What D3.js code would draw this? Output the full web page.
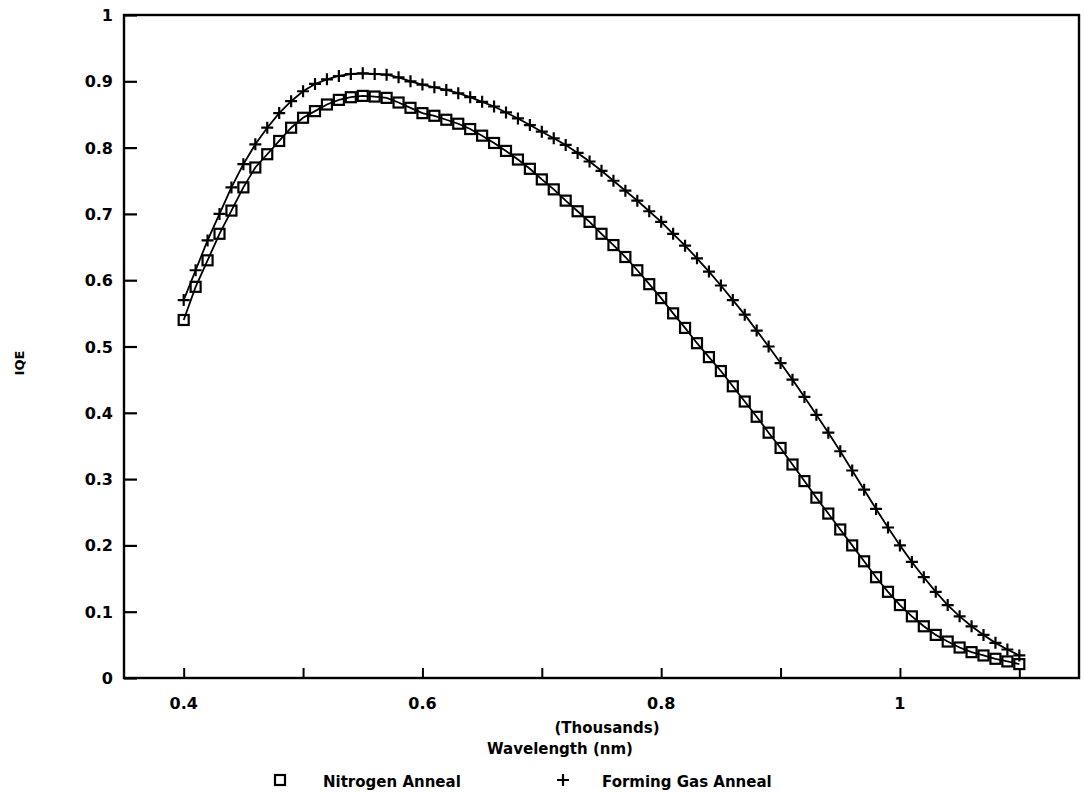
<!DOCTYPE html>
<html><head><meta charset="utf-8">
<script src="https://cdn.jsdelivr.net/npm/d3@7"></script>
<style>
body{margin:0;background:#fff;}
text{font-family:"DejaVu Sans",sans-serif;font-weight:bold;fill:#000;}
</style></head>
<body><svg id="c" width="1084" height="794"></svg>
<script>
const wavelengths = d3.range(0, 71).map(i => +(0.40 + i*0.01).toFixed(2));
const nitrogen = [0.54,0.59,0.63,0.67,0.705,0.74,0.77,0.79,0.81,0.83,
0.845,0.855,0.865,0.872,0.876,0.878,0.877,0.875,0.868,0.86,
0.852,0.848,0.842,0.836,0.828,0.818,0.807,0.795,0.782,0.768,
0.752,0.737,0.72,0.704,0.688,0.67,0.653,0.635,0.615,0.594,
0.573,0.55,0.528,0.505,0.484,0.463,0.44,0.417,0.394,0.37,
0.347,0.322,0.297,0.272,0.248,0.224,0.2,0.176,0.152,0.13,
0.11,0.093,0.078,0.065,0.055,0.046,0.039,0.034,0.029,0.025,0.021];
const forming = [0.57,0.615,0.66,0.70,0.74,0.775,0.805,0.83,0.852,0.87,
0.885,0.896,0.903,0.908,0.911,0.912,0.911,0.91,0.906,0.9,
0.895,0.891,0.887,0.882,0.876,0.869,0.862,0.853,0.844,0.834,
0.824,0.814,0.804,0.792,0.779,0.765,0.75,0.735,0.72,0.704,
0.688,0.67,0.652,0.633,0.613,0.592,0.57,0.548,0.524,0.5,
0.475,0.45,0.424,0.397,0.37,0.342,0.313,0.284,0.255,0.227,
0.2,0.175,0.152,0.13,0.11,0.093,0.078,0.065,0.053,0.043,0.034];
const xTicks = [0.4,0.5,0.6,0.7,0.8,0.9,1.0,1.1];
const xTickLabels = ["0.4","","0.6","","0.8","","1",""];
const yTicks = [0,0.1,0.2,0.3,0.4,0.5,0.6,0.7,0.8,0.9,1];
const yTickLabels = ["0","0.1","0.2","0.3","0.4","0.5","0.6","0.7","0.8","0.9","1"];
const seriesNames = ["Nitrogen Anneal","Forming Gas Anneal"];

const svg = d3.select("#c");
const L=124, R=1079, T=15, B=678;
const x = d3.scaleLinear().domain([0.35,1.15]).range([L,R]);
const y = d3.scaleLinear().domain([0,1]).range([B,T]);

svg.append("rect").attr("x",L).attr("y",T).attr("width",R-L).attr("height",B-T)
  .attr("fill","none").attr("stroke","#000").attr("stroke-width",2.4);

const yAx = d3.axisRight(y).tickValues(yTicks).tickSize(13).tickFormat("");
svg.append("g").attr("transform",`translate(${L},0)`).call(yAx)
  .call(g=>{g.select(".domain").remove();g.selectAll("line").attr("stroke","#000").attr("stroke-width",2.2);});
svg.append("g").selectAll("text").data(yTicks).join("text")
  .attr("x",L-11).attr("y",d=>y(d)+6).attr("text-anchor","end")
  .attr("font-size",16).text((d,i)=>yTickLabels[i]);

const xAx = d3.axisTop(x).tickValues(xTicks).tickSize(10).tickFormat("");
svg.append("g").attr("transform",`translate(0,${B})`).call(xAx)
  .call(g=>{g.select(".domain").remove();g.selectAll("line").attr("stroke","#000").attr("stroke-width",2);});
svg.append("g").selectAll("text").data(xTicks).join("text")
  .attr("x",d=>x(d)).attr("y",B+31).attr("text-anchor","middle")
  .attr("font-size",16).text((d,i)=>xTickLabels[i]);

svg.append("text").attr("x",607).attr("y",733).attr("text-anchor","middle").attr("font-size",15).text("(Thousands)");
svg.append("text").attr("x",560).attr("y",754).attr("text-anchor","middle").attr("font-size",15).text("Wavelength (nm)");
svg.append("text").attr("transform","translate(24,363) rotate(-90)").attr("text-anchor","middle").attr("font-size",13).text("IQE");

const line = d3.line().x((d,i)=>x(wavelengths[i])).y(d=>y(d));
[nitrogen,forming].forEach(s=>{
  svg.append("path").attr("d",line(s)).attr("fill","none").attr("stroke","#000").attr("stroke-width",1.8);
});
svg.append("g").selectAll("rect").data(nitrogen).join("rect")
  .attr("x",(d,i)=>x(wavelengths[i])-5).attr("y",d=>y(d)-5).attr("width",10).attr("height",10)
  .attr("fill","none").attr("stroke","#000").attr("stroke-width",2.2);
svg.append("g").selectAll("path").data(forming).join("path")
  .attr("transform",(d,i)=>`translate(${x(wavelengths[i])},${y(d)})`)
  .attr("d","M-6,0H6M0,-6V6").attr("stroke","#000").attr("stroke-width",2.2);

svg.append("rect").attr("x",275).attr("y",775).attr("width",10).attr("height",10)
  .attr("fill","none").attr("stroke","#000").attr("stroke-width",2.2);
svg.append("text").attr("x",323).attr("y",787).attr("font-size",15).text(seriesNames[0]);
svg.append("path").attr("d","M557,780H569M563,774V786").attr("stroke","#000").attr("stroke-width",2.2);
svg.append("text").attr("x",602).attr("y",787).attr("font-size",15).text(seriesNames[1]);
</script></body></html>
